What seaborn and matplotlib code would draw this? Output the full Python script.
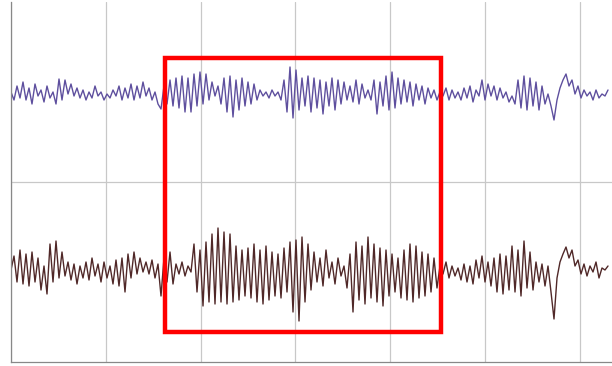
import numpy as np
import pandas as pd
import matplotlib
matplotlib.use("Agg")
import matplotlib.pyplot as plt
from matplotlib.patches import Rectangle
import seaborn as sns

# signal heights, one sample every ~3 px of the original trace
upper_trace = [
    270, 262, 276, 264, 280, 262, 274, 258, 278, 266,
    272, 260, 276, 264, 270, 258, 283, 262, 282, 268,
    278, 266, 274, 264, 272, 262, 270, 264, 276, 266,
    270, 262, 268, 264, 272, 266, 276, 262, 274, 264,
    278, 262, 276, 264, 280, 266, 274, 262, 270, 258,
    253, 276, 258, 282, 256, 284, 254, 286, 250, 284,
    250, 288, 256, 290, 258, 288, 262, 280, 266, 276,
    258, 284, 250, 286, 245, 282, 252, 284, 256, 280,
    258, 278, 262, 272, 266, 270, 264, 272, 266, 270,
    262, 282, 250, 295, 244, 292, 252, 284, 256, 286,
    250, 284, 254, 282, 248, 280, 256, 284, 252, 282,
    258, 280, 262, 276, 260, 282, 258, 278, 264, 272,
    262, 282, 248, 280, 256, 286, 252, 290, 254, 284,
    258, 282, 260, 280, 256, 278, 262, 276, 258, 274,
    264, 272, 262, 270, 266, 274, 262, 272, 264, 270,
    262, 274, 264, 276, 260, 272, 266, 282, 262, 278,
    266, 276, 262, 274, 264, 270, 260, 266, 258, 282,
    254, 286, 252, 284, 256, 280, 252, 276, 258, 268,
    256, 242, 262, 274, 282, 288, 276, 282, 268, 276,
    264, 272, 266, 270, 262, 272, 264, 268, 266, 272,
]

lower_trace = [
    92, 106, 80, 112, 78, 108, 76, 110, 80, 104,
    72, 96, 68, 118, 80, 121, 84, 110, 86, 100,
    82, 98, 78, 96, 84, 100, 82, 104, 86, 98,
    80, 100, 84, 96, 78, 102, 76, 104, 70, 108,
    84, 110, 88, 104, 90, 100, 88, 102, 84, 98,
    66, 104, 80, 110, 78, 98, 88, 100, 86, 96,
    90, 118, 70, 112, 56, 120, 60, 128, 58, 134,
    60, 130, 58, 128, 60, 116, 62, 112, 66, 114,
    64, 118, 60, 112, 58, 116, 62, 110, 66, 108,
    64, 114, 70, 120, 50, 122, 41, 125, 60, 118,
    72, 110, 80, 104, 76, 112, 84, 100, 78, 104,
    86, 96, 74, 108, 50, 120, 62, 116, 58, 125,
    64, 118, 60, 114, 56, 112, 66, 108, 70, 104,
    64, 112, 62, 118, 60, 116, 64, 110, 66, 108,
    70, 104, 74, 96, 88, 100, 84, 96, 86, 94,
    82, 98, 80, 96, 78, 102, 84, 106, 80, 100,
    76, 104, 70, 108, 68, 106, 72, 116, 70, 112,
    66, 121, 74, 110, 72, 100, 80, 98, 76, 96,
    70, 43, 84, 100, 108, 115, 104, 112, 96, 102,
    88, 98, 86, 96, 90, 100, 84, 94, 92, 96,
]

sample_step = 3 / 94.8
x_max = 601 / 94.8
y_max = 360

# highlighted window
box_x = 1.62
box_y = 30
box_w = 2.92
box_h = 274

time = np.arange(len(upper_trace)) * sample_step

df = pd.DataFrame({
    "time": np.concatenate([time, time]),
    "value": upper_trace + lower_trace,
    "trace": ["upper"] * len(upper_trace) + ["lower"] * len(lower_trace),
})

sns.set_style("white")

fig = plt.figure(figsize=(6.12, 3.66), dpi=100)
ax = fig.add_axes([11 / 612, 4 / 366, 601 / 612, 360 / 366])

sns.lineplot(
    data=df,
    x="time",
    y="value",
    hue="trace",
    palette={"upper": "#5e4f9e", "lower": "#502828"},
    linewidth=1.0,
    solid_joinstyle="round",
    legend=False,
    ax=ax
)

ax.add_patch(Rectangle(
    (box_x, box_y),
    box_w,
    box_h,
    fill=False,
    edgecolor="#ff0000",
    linewidth=3.2,
    zorder=5
))

ax.set_xlim(0, x_max)
ax.set_ylim(0, y_max)

ax.set_xticks(np.arange(0, 7))
ax.set_yticks(np.arange(0, y_max + 1, 72))
ax.set_yticks([180, 360], minor=True)

ax.grid(axis="x", which="major", color="#c8c8c8", linewidth=0.9)
ax.grid(axis="y", which="minor", color="#c8c8c8", linewidth=0.9)
ax.grid(axis="y", which="major", visible=False)

ax.tick_params(axis="both", which="major", direction="out", length=5,
               color="#888888", width=0.9, labelleft=False, labelbottom=False)
ax.tick_params(axis="y", which="minor", length=0)

for side in ["top", "right"]:
    ax.spines[side].set_visible(False)
for side in ["left", "bottom"]:
    ax.spines[side].set_color("#888888")
    ax.spines[side].set_linewidth(0.9)

ax.set_xlabel("")
ax.set_ylabel("")

fig.savefig("out.png", dpi=100)
